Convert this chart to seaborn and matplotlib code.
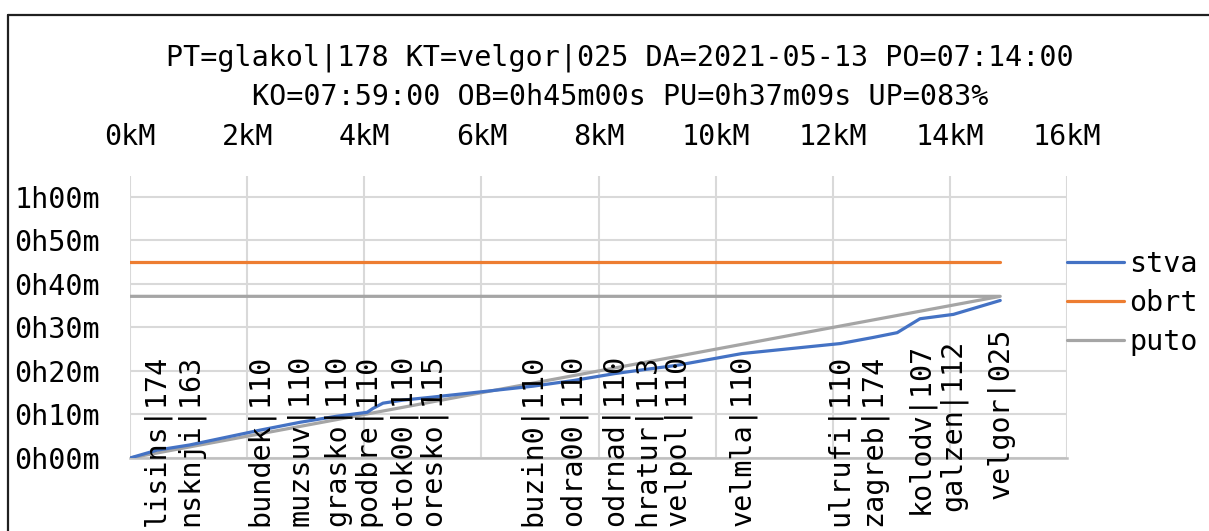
import matplotlib
matplotlib.use("Agg")
import matplotlib.pyplot as plt
import seaborn as sns
from matplotlib.lines import Line2D
from matplotlib.ticker import FixedLocator, FuncFormatter

# ---------------- data ----------------
title_line1 = "PT=glakol|178 KT=velgor|025 DA=2021-05-13 PO=07:14:00"
title_line2 = "KO=07:59:00 OB=0h45m00s PU=0h37m09s UP=083%"

stations = ["lisins", "nsknji", "bundek", "muzsuv", "grasko", "podbre", "otok00",
            "oresko", "buzin0", "odra00", "odrnad", "hratur", "velpol", "velmla",
            "ulrufi", "zagreb", "kolodv", "galzen", "velgor"]
station_codes = ["174", "163", "110", "110", "110", "110", "110", "115", "110", "110",
                 "110", "113", "110", "110", "110", "174", "107", "112", "025"]
station_km = [0.46, 1.02, 2.22, 2.90, 3.53, 4.05, 4.66, 5.17, 6.88, 7.57, 8.28,
              8.83, 9.34, 10.45, 12.13, 12.69, 13.49, 14.06, 14.86]

stva_km = [0, 0.46, 1.02, 2.22, 2.90, 3.53, 4.05, 4.15, 4.32, 4.66, 5.17, 6.88,
           7.57, 8.28, 8.83, 9.34, 10.45, 12.13, 12.69, 13.10, 13.49, 14.06, 14.86]
stva_min = [0, 1.8, 3.0, 6.4, 8.2, 9.6, 10.5, 11.4, 12.6, 13.3, 14.0, 16.5,
            17.8, 19.4, 20.4, 21.3, 24.0, 26.3, 27.7, 28.8, 32.0, 33.0, 36.2]

obrt_km = [0, 14.86]
obrt_min = [45.0, 45.0]

puto_km = [0, 14.86, 0]
puto_min = [37.15, 37.15, 0]

x_ticks_km = [0, 2, 4, 6, 8, 10, 12, 14, 16]
y_ticks_min = [0, 10, 20, 30, 40, 50, 60]

# ---------------- style ----------------
sns.set_style("white")
plt.rcParams["font.family"] = ["DejaVu Sans Mono", "DejaVu Sans"]
plt.rcParams["text.color"] = "black"
plt.rcParams["xtick.color"] = "black"
plt.rcParams["ytick.color"] = "black"
plt.rcParams["axes.labelcolor"] = "black"
FS = 20.4

W, H = 1209, 531
fig = plt.figure(figsize=(W / 100, H / 100), dpi=100)
fig.patch.set_facecolor("white")

L, R, T, B = 130, 1067, 176, 458
ax = fig.add_axes([L / W, 1 - B / H, (R - L) / W, (B - T) / H])

blue, orange, gray = "#4472c4", "#ed7d31", "#a5a5a5"
lw = 2.3

sns.lineplot(x=stva_km, y=stva_min, sort=False, estimator=None, color=blue,
             lw=lw, label="stva", ax=ax, zorder=5)
sns.lineplot(x=obrt_km, y=obrt_min, sort=False, estimator=None, color=orange,
             lw=lw, label="obrt", ax=ax, zorder=4)
sns.lineplot(x=puto_km, y=puto_min, sort=False, estimator=None, color=gray,
             lw=lw, label="puto", ax=ax, zorder=3)

ax.set_xlim(0, 16)
ax.set_ylim(0, 64.8)
ax.xaxis.set_major_locator(FixedLocator(x_ticks_km))
ax.yaxis.set_major_locator(FixedLocator(y_ticks_min))
ax.xaxis.set_major_formatter(FuncFormatter(lambda v, p: f"{int(round(v))}kM"))
ax.yaxis.set_major_formatter(
    FuncFormatter(lambda v, p: f"{int(v) // 60}h{int(v) % 60:02d}m"))
ax.xaxis.tick_top()
ax.tick_params(axis="x", length=0, pad=18, labelsize=FS, labelcolor="black")
ax.tick_params(axis="y", length=0, pad=21.6, labelsize=FS, labelcolor="black")
ax.set_xlabel("")
ax.set_ylabel("")

ax.grid(True, color="#d9d9d9", lw=1.5)
ax.set_axisbelow(True)
for s in ["top", "left", "right"]:
    ax.spines[s].set_visible(False)
ax.spines["bottom"].set_color("#bfbfbf")
ax.spines["bottom"].set_linewidth(1.8)

# station labels (layout: vertical centre of each label, in minutes)
label_center = [4.1] * 16 + [6.9, 7.6, 10.3]
for km, name, code, yc in zip(station_km, stations, station_codes, label_center):
    ax.text(km, yc, f"{name}|{code}", rotation=90, ha="center", va="center",
            fontsize=FS, color="black", clip_on=False, zorder=6)

# legend
leg = ax.legend(loc="upper left", bbox_to_anchor=(R / W, 1 - 250 / H),
                bbox_transform=fig.transFigure, frameon=False, fontsize=FS,
                handlelength=2.0, handletextpad=0.2, labelspacing=0.38,
                borderpad=0, borderaxespad=0)
for t in leg.get_texts():
    t.set_color("black")

# titles
fig.text(620 / W, 1 - 58 / H, title_line1, ha="center", va="center",
         fontsize=FS, color="black")
fig.text(620 / W, 1 - 97 / H, title_line2, ha="center", va="center",
         fontsize=FS, color="black")

# chart border (top and left visible)
fig.add_artist(Line2D([8 / W, 1.0], [1 - 15 / H, 1 - 15 / H],
                      transform=fig.transFigure, color="#202020", lw=1.6))
fig.add_artist(Line2D([8 / W, 8 / W], [1 - 15 / H, 0.0],
                      transform=fig.transFigure, color="#202020", lw=1.6))

fig.savefig("out.png", dpi=100)
